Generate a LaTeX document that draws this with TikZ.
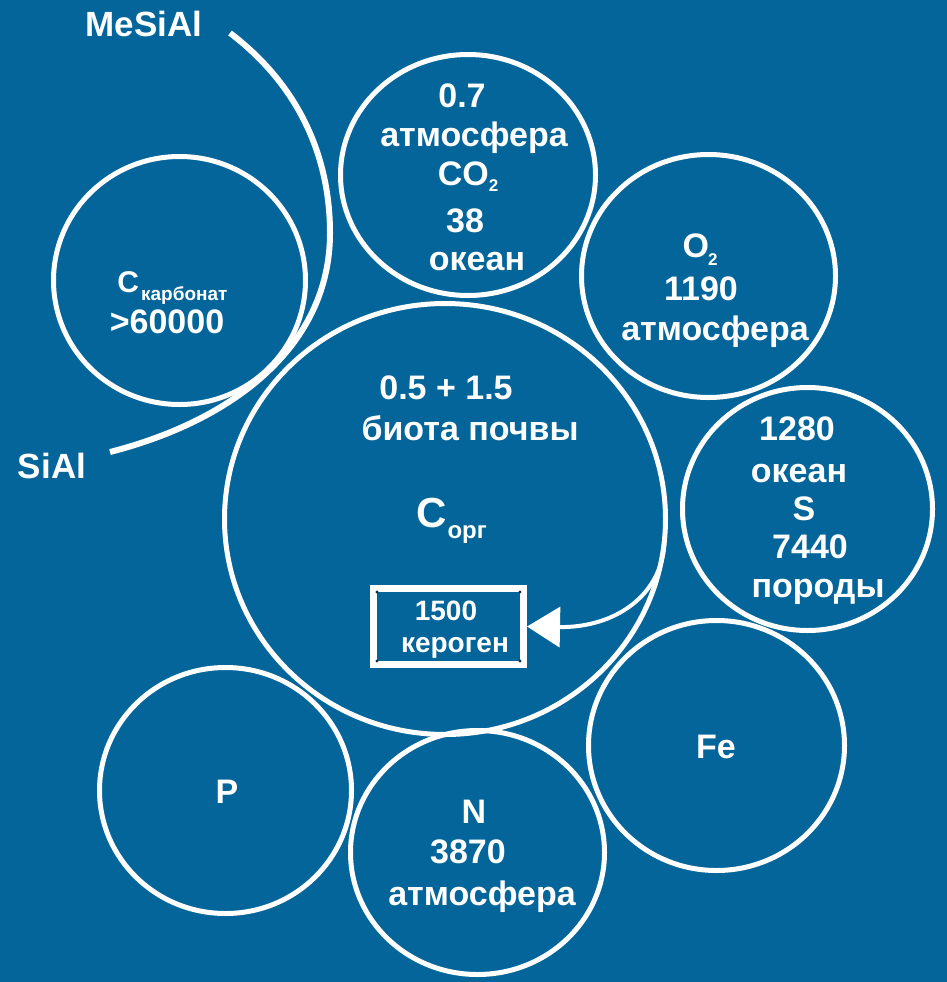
\documentclass[tikz,border=0pt]{standalone}
\usepackage{fontspec}
\setmainfont{Liberation Sans}
\usetikzlibrary{shapes.geometric,arrows.meta}
\definecolor{bg}{RGB}{3,101,153}
\definecolor{dotc}{RGB}{25,45,70}
\tikzset{
 ring/.style={draw=white,line width=5pt,ellipse,inner sep=0pt,outer sep=0pt},
 lbl/.style={text=white,font=\bfseries\fontsize{34}{40}\selectfont,anchor=base,inner sep=0pt},
 smalllbl/.style={text=white,font=\bfseries\fontsize{28}{32}\selectfont,anchor=base,inner sep=0pt},
 boxstyle/.style={draw=white,line width=7pt,rectangle,inner sep=0pt},
 flow/.style={white,line width=4pt,-{Triangle[length=33pt,width=40pt]}},
 boundary/.style={white,line width=6pt},
}
\newcommand{\mysub}[3]{\raisebox{-#1pt}{\fontsize{#2}{#2}\selectfont #3}}
\begin{document}
\begin{tikzpicture}[x=1pt,y=-1pt]
\fill[bg] (0,0) rectangle (947,982);
\useasboundingbox (0,0) rectangle (947,982);

% circles
\node[ring,minimum width=252pt,minimum height=248pt] (carb) at (179.5,280.5) {};
\node[ring,minimum width=255pt,minimum height=241pt] (co2) at (468,175) {};
\node[ring,minimum width=254pt,minimum height=243pt] (oxy) at (708.5,276) {};
\node[ring,minimum width=250pt,minimum height=243pt] (sulf) at (807.5,509) {};
\node[ring,minimum width=256pt,minimum height=250pt] (iron) at (716.5,745.5) {};
\node[ring,minimum width=254pt,minimum height=244pt] (nitr) at (477.5,852.5) {};
\node[ring,minimum width=252pt,minimum height=246pt] (phos) at (225.5,790.5) {};
\node[ring,minimum width=441pt,minimum height=431pt] (big) at (445,519) {};

% kerogen box
\node[boxstyle,minimum width=150pt,minimum height=76pt] (ker) at (448.5,626.5) {};
\foreach \dx/\dy/\nm in {7/7/north west,-7/7/north east,7/-7/south west,-7/-7/south east}
  \fill[dotc] ([shift={(\dx,\dy)}]ker.\nm) circle (1.6pt);

% arrow
\draw[flow] (big.-5) .. controls (664,595) and (615,628) .. (ker.east);

% MeSiAl / SiAl boundary
\coordinate (arcA) at (230,33);
\coordinate (arcM) at (330,233);
\coordinate (arcB) at (110,452);
\draw[boundary] (arcA) .. controls (305,90) and (330,165) .. (arcM)
                       .. controls (330,345) and (235,420) .. (arcB);

\node[lbl,font=\bfseries\fontsize{35}{40}\selectfont] (mesial) at (144,37) {MeSiAl};
\node[lbl,font=\bfseries\fontsize{35}{40}\selectfont] (sial) at (52,478) {SiAl};

% carbonate
\node[lbl] (c1) at (172.5,292) {\fontsize{30}{30}\selectfont C\hspace{2pt}\mysub{8}{19}{карбонат}};
\node[lbl] (c2) at (167,333) {>60000};

% top circle
\node[lbl] (t1) at (462,107) {0.7};
\node[lbl] (t2) at (474,146) {атмосфера};
\node[lbl] (t3) at (468,185) {CO\mysub{6}{17}{2}};
\node[lbl] (t4) at (465,232) {38};
\node[lbl] (t5) at (477,270) {океан};

% O2 circle
\node[lbl] (o1) at (700,257) {O\hspace{-1pt}\mysub{8}{17}{2}};
\node[lbl] (o2) at (701,300) {1190};
\node[lbl] (o3) at (715,340) {атмосфера};

% S circle
\node[lbl] (s1) at (797,440) {1280};
\node[lbl] (s2) at (799,482) {океан};
\node[lbl] (s3) at (804,520) {S};
\node[lbl] (s4) at (810,558) {7440};
\node[lbl] (s5) at (818,597) {породы};

% big circle
\node[lbl] (b1) at (446,399) {0.5 + 1.5};
\node[lbl] (b2) at (470,440) {биота почвы};
\node[lbl] (b3) at (451.5,527) {\fontsize{42}{42}\selectfont C\hspace{1pt}\mysub{11}{24}{орг}};

% kerogen text
\node[smalllbl] (k1) at (446,620) {1500};
\node[smalllbl] (k2) at (455,652) {кероген};

% Fe, N, P
\node[lbl] (fe) at (716,758) {Fe};
\node[lbl] (n1) at (474,823) {N};
\node[lbl] (n2) at (468,863) {3870};
\node[lbl] (n3) at (482,905) {атмосфера};
\node[lbl] (p1) at (227,803) {P};
\end{tikzpicture}
\end{document}
